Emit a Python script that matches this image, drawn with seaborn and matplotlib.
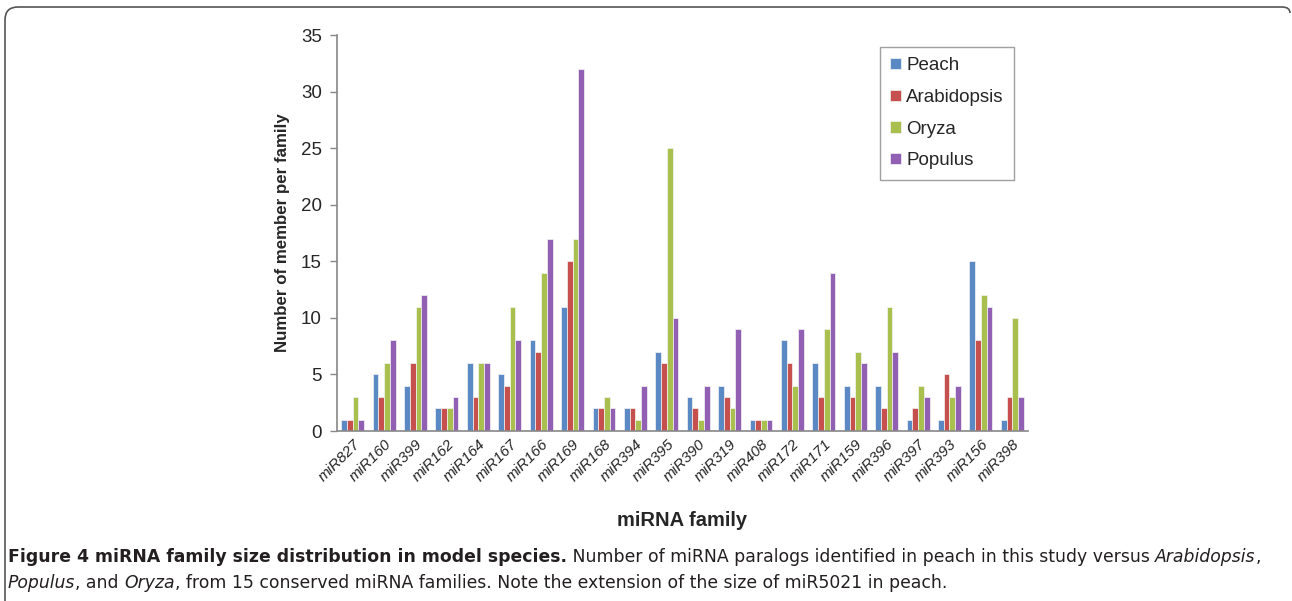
import numpy as np
import pandas as pd
import matplotlib
matplotlib.use('Agg')
import matplotlib.pyplot as plt
import seaborn as sns
from matplotlib.patches import PathPatch
from matplotlib.path import Path
from matplotlib.transforms import IdentityTransform

# miRNA families on the x axis
families = ['miR827', 'miR160', 'miR399', 'miR162', 'miR164', 'miR167', 'miR166',
            'miR169', 'miR168', 'miR394', 'miR395', 'miR390', 'miR319', 'miR408',
            'miR172', 'miR171', 'miR159', 'miR396', 'miR397', 'miR393', 'miR156',
            'miR398']

# members per family, one list per species
peach = [1, 5, 4, 2, 6, 5, 8, 11, 2, 2, 7, 3, 4, 1, 8, 6, 4, 4, 1, 1, 15, 1]
arabidopsis = [1, 3, 6, 2, 3, 4, 7, 15, 2, 2, 6, 2, 3, 1, 6, 3, 3, 2, 2, 5, 8, 3]
oryza = [3, 6, 11, 2, 6, 11, 14, 17, 3, 1, 25, 1, 2, 1, 4, 9, 7, 11, 4, 3, 12, 10]
populus = [1, 8, 12, 3, 6, 8, 17, 32, 2, 4, 10, 4, 9, 1, 9, 14, 6, 7, 3, 4, 11, 3]

species = ['Peach', 'Arabidopsis', 'Oryza', 'Populus']
colors = ['#5B89C4', '#C5504D', '#A9C04F', '#9160B3']

df = pd.DataFrame({
    'family': families * 4,
    'species': np.repeat(species, len(families)),
    'count': peach + arabidopsis + oryza + populus,
})

sns.set_style('white')
plt.rcParams['font.family'] = ['Liberation Sans', 'DejaVu Sans']

W, H = 1292, 601
fig = plt.figure(figsize=(W / 100, H / 100), dpi=100)
ax = fig.add_axes([337 / W, 1 - 431 / H, 691 / W, 396 / H])

sns.barplot(data=df, x='family', y='count', hue='species', palette=colors,
            saturation=1, width=0.73, gap=0, edgecolor='#f4f4f4', linewidth=0.5, ax=ax)

ax.set_xlim(-0.5, 21.5)
ax.set_ylim(0, 35)
ax.set_yticks(range(0, 36, 5))
ax.tick_params(axis='y', length=5, width=1, color='#888888', labelsize=13.5, pad=6, left=True)
ax.tick_params(axis='x', length=0, labelsize=11, pad=4)
for lab in ax.get_xticklabels():
    lab.set_rotation(45)
    lab.set_ha('right')
    lab.set_rotation_mode('anchor')
    lab.set_style('italic')

for s in ['top', 'right']:
    ax.spines[s].set_visible(False)
for s in ['left', 'bottom']:
    ax.spines[s].set_color('#888888')
    ax.spines[s].set_linewidth(1.2)

ax.set_ylabel('Number of member per family', fontsize=12.2, fontweight='bold', labelpad=8)
ax.set_xlabel('miRNA family', fontsize=14.5, fontweight='bold', labelpad=20)

leg = ax.legend(loc='upper left', bbox_to_anchor=(880 / W, 1 - 47 / H),
                bbox_transform=fig.transFigure, fontsize=13.5, frameon=True,
                fancybox=False, handlelength=0.55, handleheight=0.55,
                handletextpad=0.3, labelspacing=0.78, borderpad=0.55,
                borderaxespad=0)
leg.get_frame().set_edgecolor('#888888')
leg.get_frame().set_linewidth(1)
leg.set_title(None)

# frame around the figure: top edge with rounded corners, left edge down to the bottom
pts = [(1290, H - 13), (1290, H - 7), (1282, H - 7), (18, H - 7), (5, H - 7), (5, H - 20), (5, -10)]
codes = [Path.MOVETO, Path.CURVE3, Path.CURVE3, Path.LINETO, Path.CURVE3, Path.CURVE3, Path.LINETO]
frame = PathPatch(Path(pts, codes), transform=IdentityTransform(), fill=False,
                  edgecolor='#555555', linewidth=1.2)
fig.patches.append(frame)

# caption with mixed bold / italic runs
cap_font = ['Liberation Sans Narrow', 'DejaVu Sans']
cap_size = 12.4
line1 = [('Figure 4 miRNA family size distribution in model species.', 'bold', 'normal'),
         (' Number of miRNA paralogs identified in peach in this study versus ', 'normal', 'normal'),
         ('Arabidopsis', 'normal', 'italic'),
         (',', 'normal', 'normal')]
line2 = [('Populus', 'normal', 'italic'),
         (', and ', 'normal', 'normal'),
         ('Oryza', 'normal', 'italic'),
         (', from 15 conserved miRNA families. Note the extension of the size of miR5021 in peach.',
          'normal', 'normal')]

fig.canvas.draw()
renderer = fig.canvas.get_renderer()


def draw_runs(runs, x, y):
    for txt, weight, style in runs:
        t = fig.text(x, y, txt, transform=IdentityTransform(), fontsize=cap_size,
                     family=cap_font, fontweight=weight, fontstyle=style,
                     color='#231f20', va='baseline', ha='left')
        x += t.get_window_extent(renderer).width


draw_runs(line1, 8, H - 562)
draw_runs(line2, 8, H - 588)

fig.savefig('out.png', dpi=100)
